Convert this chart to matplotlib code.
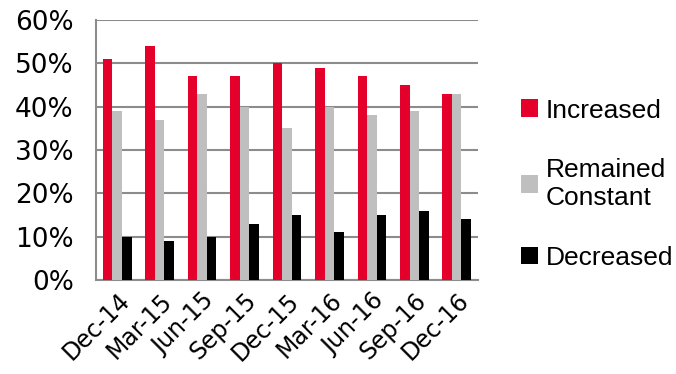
import numpy as np
import matplotlib.pyplot as plt
from matplotlib.ticker import MultipleLocator, PercentFormatter

quarters = ['Dec-14', 'Mar-15', 'Jun-15', 'Sep-15', 'Dec-15',
            'Mar-16', 'Jun-16', 'Sep-16', 'Dec-16']
increased = [51, 54, 47, 47, 50, 49, 47, 45, 43]
remained = [39, 37, 43, 40, 35, 40, 38, 39, 43]
decreased = [10, 9, 10, 13, 15, 11, 15, 16, 14]

series = [('Increased', increased, '#E4002B'),
          ('Remained\nConstant', remained, '#BFBFBF'),
          ('Decreased', decreased, '#000000')]

fig = plt.figure(figsize=(6.76, 3.74), dpi=100)
ax = fig.add_axes([0.142, 0.251, 0.565, 0.696])

x = np.arange(len(quarters))
width = 0.225
for i, (name, vals, color) in enumerate(series):
    ax.bar(x + (i - 1) * width, vals, width, color=color, label=name, zorder=3)

ax.set_xlim(-0.5, len(quarters) - 0.5)
ax.set_ylim(0, 60)
ax.yaxis.set_major_locator(MultipleLocator(10))
ax.yaxis.set_major_formatter(PercentFormatter(decimals=0))
ax.grid(axis='y', color='#8c8c8c', linewidth=1.5, zorder=0)
ax.set_axisbelow(True)

for s in ['top', 'right']:
    ax.spines[s].set_visible(False)
for s in ['left', 'bottom']:
    ax.spines[s].set_color('#8c8c8c')
    ax.spines[s].set_linewidth(1.5)

ax.set_xticks(x)
ax.set_xticklabels(quarters, rotation=45, ha='right', rotation_mode='anchor',
                   fontsize=17, family='DejaVu Sans')
ax.tick_params(axis='y', length=0, labelsize=19, pad=16)
ax.tick_params(axis='x', length=0, pad=6)

fig.legend(loc='upper left', bbox_to_anchor=(0.735, 0.8), frameon=False,
           prop={'family': 'Liberation Sans', 'size': 19},
           handlelength=0.65, handleheight=0.65, handletextpad=0.3,
           labelspacing=1.35)

plt.savefig('out.png', dpi=100)
